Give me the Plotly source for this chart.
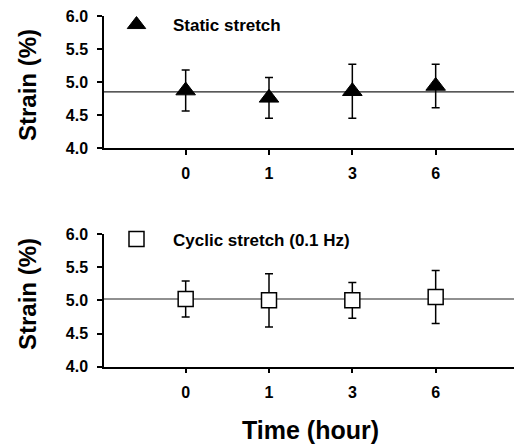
import plotly.graph_objects as go

# ---- data ----
time_labels = ["0", "1", "3", "6"]
static_mean = [4.87, 4.76, 4.86, 4.94]
static_err = [0.31, 0.31, 0.41, 0.33]
static_ref = 4.85
cyclic_mean = [5.02, 5.00, 5.00, 5.05]
cyclic_err = [0.27, 0.40, 0.27, 0.40]
cyclic_ref = 5.02
y_ticks = [4.0, 4.5, 5.0, 5.5, 6.0]

FONT = "Liberation Sans, Arial, sans-serif"
W, H = 514, 446
xpos = list(range(len(time_labels)))

fig = go.Figure()

fig.add_trace(go.Scatter(
    x=xpos, y=static_mean, mode="markers", name="Static stretch",
    showlegend=True,
    marker=dict(symbol="triangle-up", size=17, color="black",
                line=dict(color="black", width=1)),
    error_y=dict(type="data", array=static_err, color="black",
                 thickness=1.5, width=4),
    xaxis="x", yaxis="y", legend="legend"))

fig.add_trace(go.Scatter(
    x=xpos, y=cyclic_mean, mode="markers", name="Cyclic stretch (0.1 Hz)",
    showlegend=True,
    marker=dict(symbol="square", size=15, color="white",
                line=dict(color="black", width=1.5)),
    error_y=dict(type="data", array=cyclic_err, color="black",
                 thickness=1.5, width=4),
    xaxis="x2", yaxis="y2", legend="legend2"))

# reference lines
fig.add_shape(type="line", xref="x domain", yref="y", x0=0, x1=1,
              y0=static_ref, y1=static_ref, line=dict(color="#222", width=1.2),
              layer="below")
fig.add_shape(type="line", xref="x2 domain", yref="y2", x0=0, x1=1,
              y0=cyclic_ref, y1=cyclic_ref, line=dict(color="#222", width=1.2),
              layer="below")

xdom = [104 / W, 1.0]
top_dom = [(H - 148) / H, (H - 16) / H]
bot_dom = [(H - 366.7) / H, (H - 234) / H]

xaxis_common = dict(
    domain=xdom, range=[-0.98, 3.94], tickmode="array", tickvals=xpos,
    ticktext=time_labels, showline=True, linecolor="black", linewidth=1.5,
    ticks="outside", ticklen=5, tickwidth=1.5, tickcolor="black",
    showgrid=False, zeroline=False, ticklabelstandoff=5,
    tickfont=dict(family=FONT, size=16, color="black", weight="bold"))
yaxis_common = dict(
    range=[4.0, 6.0], tickmode="array", tickvals=y_ticks,
    ticktext=[f"{v:.1f}" for v in y_ticks], showline=True, linecolor="black",
    linewidth=1.5, ticks="outside", ticklen=5, tickwidth=1.5,
    tickcolor="black", showgrid=False, zeroline=False, ticklabelstandoff=6,
    tickfont=dict(family=FONT, size=16, color="black", weight="bold"))

legend_font = dict(family=FONT, size=17, color="black", weight="bold")

fig.update_layout(
    width=W, height=H,
    margin=dict(l=0, r=0, t=0, b=0, pad=0, autoexpand=False),
    paper_bgcolor="white", plot_bgcolor="white",
    showlegend=True,
    xaxis=dict(**xaxis_common, anchor="y"),
    yaxis=dict(**yaxis_common, domain=top_dom, anchor="x"),
    xaxis2=dict(**xaxis_common, anchor="y2"),
    yaxis2=dict(**yaxis_common, domain=bot_dom, anchor="x2"),
    legend=dict(x=100 / W, y=(H - 25) / H, xanchor="left", yanchor="middle",
                bgcolor="rgba(0,0,0,0)", borderwidth=0, itemwidth=63,
                font=legend_font),
    legend2=dict(x=100 / W, y=(H - 239.5) / H, xanchor="left", yanchor="middle",
                 bgcolor="rgba(0,0,0,0)", borderwidth=0, itemwidth=63,
                 font=legend_font, visible=True),
    annotations=[
        dict(text="Strain (%)", xref="paper", yref="paper", x=27 / W,
             y=(H - 85) / H, textangle=-90, showarrow=False,
             xanchor="center", yanchor="middle",
             font=dict(family=FONT, size=24, color="black", weight="bold")),
        dict(text="Strain (%)", xref="paper", yref="paper", x=27 / W,
             y=(H - 294) / H, textangle=-90, showarrow=False,
             xanchor="center", yanchor="middle",
             font=dict(family=FONT, size=24, color="black", weight="bold")),
        dict(text="Time (hour)", xref="paper", yref="paper", x=310 / W,
             y=(H - 430) / H, showarrow=False, xanchor="center",
             yanchor="middle",
             font=dict(family=FONT, size=25, color="black", weight="bold")),
    ],
)

fig.write_html("out.html")
